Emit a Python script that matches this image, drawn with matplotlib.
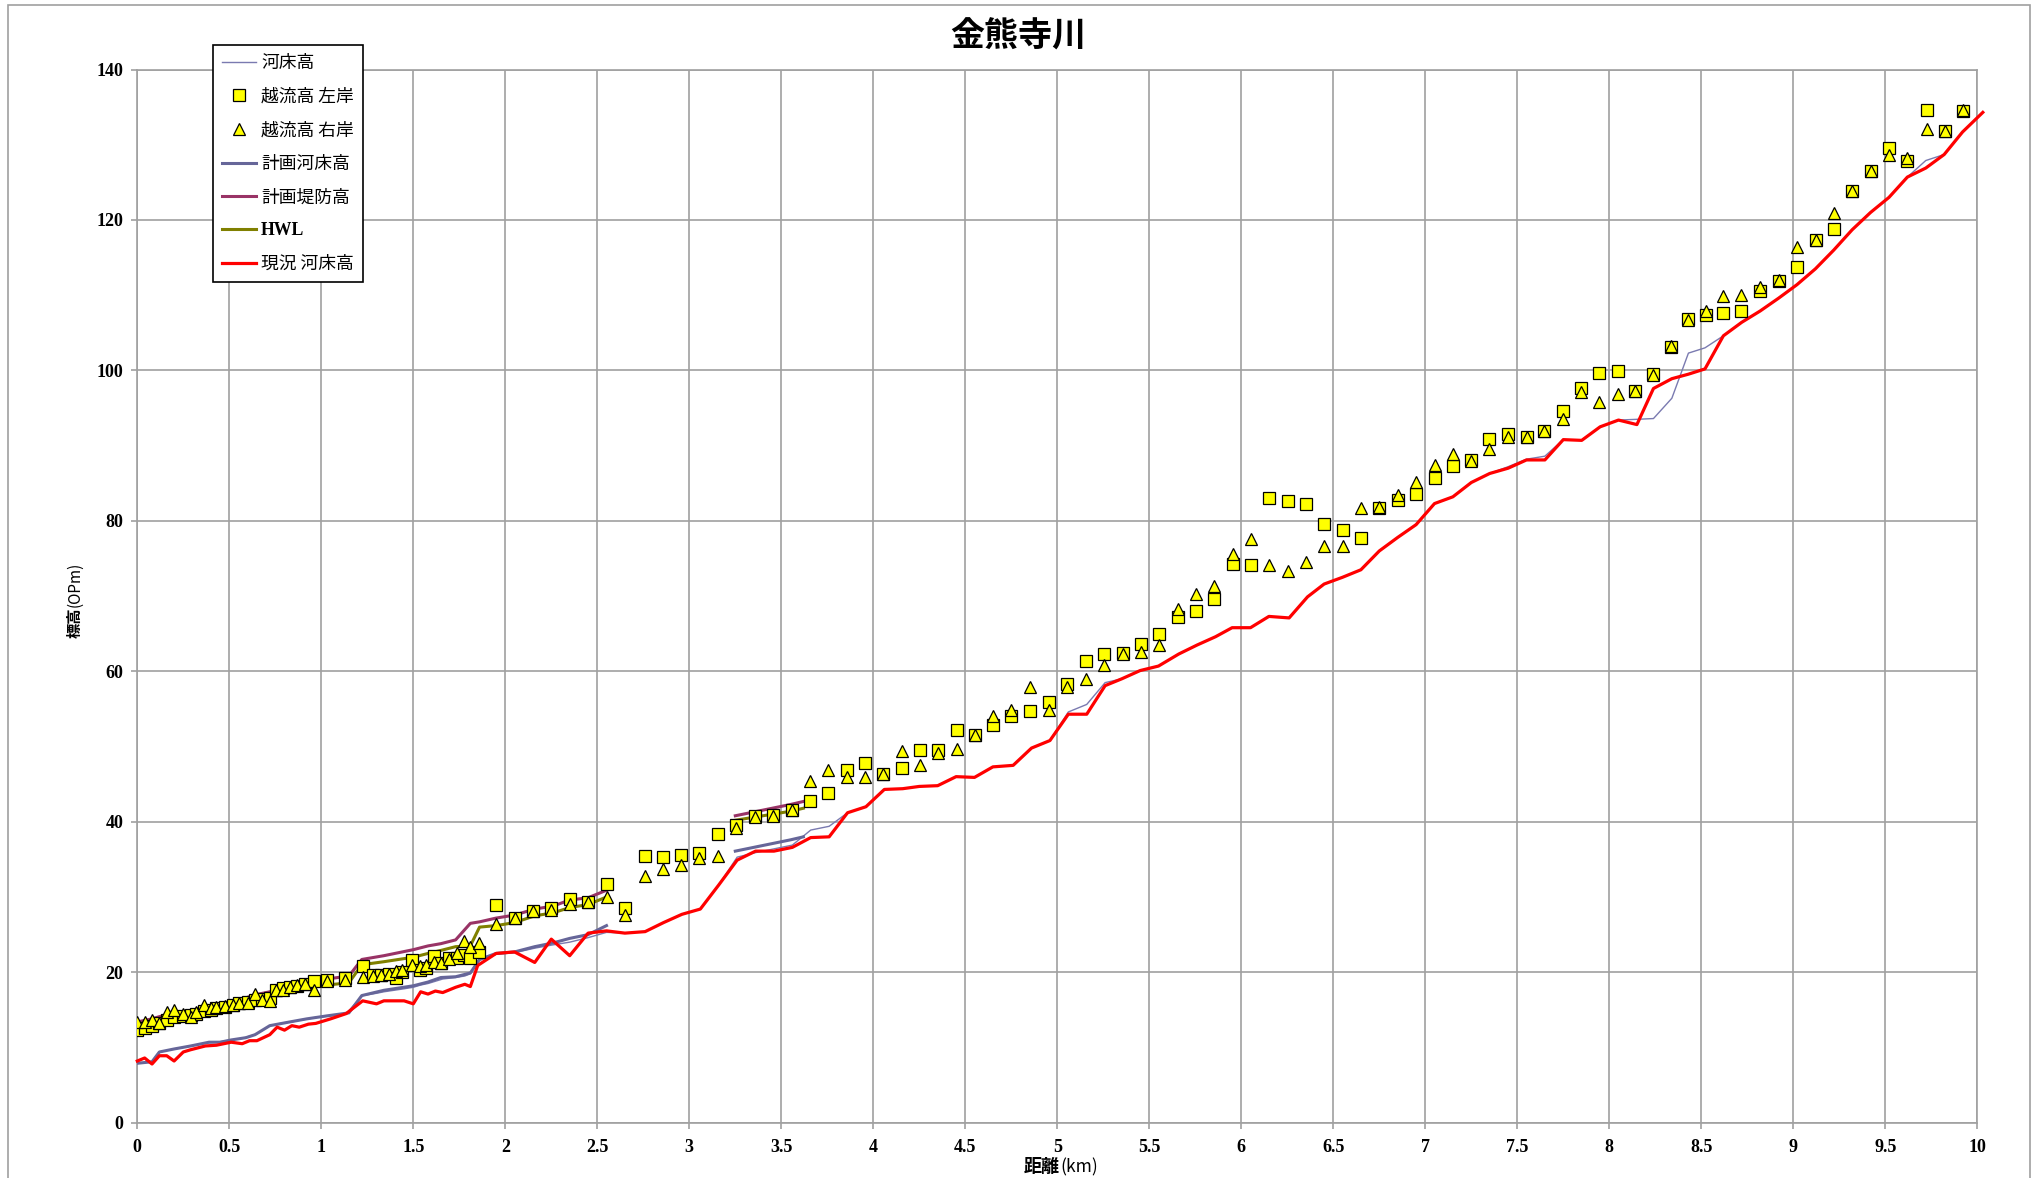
import numpy as np
import matplotlib
matplotlib.use("Agg")
import matplotlib.pyplot as plt
from matplotlib.patches import Rectangle

plt.rcParams['font.family'] = ['Noto Sans CJK JP', 'DejaVu Sans']

# overflow heights (left / right bank), distance in km
mk_km = [0.00, 0.04, 0.08, 0.12, 0.16, 0.20, 0.25, 0.29, 0.32, 0.36,
         0.40, 0.43, 0.475, 0.52, 0.555, 0.60, 0.64, 0.68, 0.72, 0.755,
         0.79, 0.83, 0.87, 0.91, 0.96, 1.03, 1.13, 1.225, 1.28, 1.325,
         1.37, 1.405, 1.44, 1.495, 1.535, 1.57, 1.615, 1.65, 1.695, 1.735,
         1.775, 1.81, 1.855, 1.95, 2.05, 2.15, 2.25, 2.35, 2.45, 2.55,
         2.65, 2.76, 2.855, 2.955, 3.055, 3.155, 3.255, 3.355, 3.455, 3.56,
         3.655, 3.755, 3.855, 3.955, 4.055, 4.155, 4.255, 4.35, 4.455, 4.555,
         4.65, 4.75, 4.85, 4.955, 5.055, 5.155, 5.255, 5.355, 5.455, 5.555,
         5.655, 5.755, 5.85, 5.955, 6.055, 6.15, 6.255, 6.35, 6.45, 6.55,
         6.65, 6.75, 6.85, 6.95, 7.05, 7.15, 7.247, 7.345, 7.45, 7.55,
         7.645, 7.75, 7.847, 7.945, 8.046, 8.142, 8.236, 8.337, 8.43, 8.525,
         8.62, 8.715, 8.82, 8.92, 9.02, 9.124, 9.22, 9.32, 9.424, 9.52,
         9.62, 9.724, 9.824, 9.92]
left_bank = [12.3, 12.6, 12.9, 13.2, 13.7, 14.0, 14.2, 14.3, 14.5, 14.8,
             15.0, 15.2, 15.4, 15.6, 15.9, 16.1, 16.3, 16.4, 16.6, 17.7,
             17.9, 18.1, 18.2, 18.4, 18.8, 19.0, 19.2, 20.8, 19.6, 19.6,
             19.7, 19.3, 20.0, 21.6, 20.3, 20.5, 22.2, 21.2, 21.9, 21.9,
             22.3, 21.9, 22.7, 28.9, 27.2, 28.1, 28.5, 29.7, 29.3, 31.7,
             28.6, 35.5, 35.3, 35.6, 35.9, 38.4, 39.6, 40.8, 40.9, 41.6,
             42.7, 43.8, 46.9, 47.8, 46.3, 47.1, 49.5, 49.6, 52.2, 51.5,
             52.9, 54.0, 54.7, 55.9, 58.3, 61.4, 62.3, 62.4, 63.6, 65.0,
             67.2, 68.0, 69.6, 74.3, 74.1, 83.1, 82.6, 82.2, 79.6, 78.8,
             77.7, 81.7, 82.8, 83.6, 85.7, 87.3, 88.1, 90.9, 91.5, 91.2,
             92.0, 94.6, 97.6, 99.7, 99.9, 97.3, 99.5, 103.1, 106.9, 107.4,
             107.6, 107.9, 110.6, 111.9, 113.7, 117.3, 118.8, 123.9, 126.5, 129.6,
             127.9, 134.6, 131.8, 134.5]
right_bank = [13.4, 13.4, 13.6, 13.3, 14.7, 15.0, 14.5, 14.0, 14.7, 15.7,
              15.2, 15.4, 15.5, 15.7, 15.9, 15.9, 17.1, 16.3, 16.2, 17.7,
              17.7, 18.1, 18.3, 18.4, 17.6, 18.8, 19.0, 19.4, 19.5, 19.6,
              19.7, 20.1, 20.3, 21.0, 20.8, 21.0, 21.3, 21.2, 21.7, 22.5,
              24.1, 23.3, 23.9, 26.4, 27.2, 28.2, 28.3, 29.1, 29.3, 30.0,
              27.6, 32.8, 33.7, 34.2, 35.2, 35.5, 39.2, 40.6, 40.8, 41.6,
              45.4, 46.9, 46.0, 46.0, 46.4, 49.4, 47.6, 49.1, 49.7, 51.5,
              54.0, 54.8, 57.9, 54.9, 57.9, 59.0, 60.9, 62.3, 62.6, 63.5,
              68.3, 70.3, 71.4, 75.6, 77.6, 74.1, 73.4, 74.5, 76.6, 76.6,
              81.7, 81.9, 83.4, 85.2, 87.4, 88.9, 87.9, 89.6, 91.1, 91.1,
              91.9, 93.5, 97.1, 95.8, 96.9, 97.3, 99.4, 103.3, 106.7, 107.9,
              109.9, 110.0, 111.1, 112.0, 116.4, 117.4, 120.9, 123.9, 126.5, 128.6,
              128.3, 132.1, 131.8, 134.6]

# current riverbed
now_km = [0.00, 0.04, 0.08, 0.12, 0.16, 0.20, 0.25, 0.29, 0.37, 0.43,
          0.51, 0.57, 0.61, 0.65, 0.72, 0.76, 0.80, 0.84, 0.88, 0.93,
          0.97, 1.05, 1.135, 1.225, 1.30, 1.34, 1.45, 1.50, 1.54, 1.58,
          1.62, 1.66, 1.73, 1.78, 1.81, 1.85, 1.95, 2.05, 2.16, 2.25,
          2.35, 2.45, 2.55, 2.65, 2.76, 2.86, 2.96, 3.06, 3.16, 3.26,
          3.36, 3.46, 3.56, 3.66, 3.76, 3.86, 3.96, 4.06, 4.16, 4.25,
          4.35, 4.45, 4.55, 4.65, 4.76, 4.86, 4.96, 5.06, 5.16, 5.26,
          5.35, 5.45, 5.55, 5.66, 5.76, 5.86, 5.95, 6.05, 6.15, 6.26,
          6.36, 6.45, 6.55, 6.65, 6.75, 6.85, 6.95, 7.05, 7.15, 7.25,
          7.35, 7.45, 7.55, 7.65, 7.75, 7.85, 7.95, 8.05, 8.15, 8.24,
          8.34, 8.43, 8.52, 8.62, 8.72, 8.82, 8.92, 9.02, 9.12, 9.22,
          9.32, 9.42, 9.52, 9.62, 9.72, 9.82, 9.92, 10.03]
now_bed = [8.2, 8.6, 7.8, 8.9, 8.9, 8.2, 9.4, 9.7, 10.2, 10.3,
           10.7, 10.5, 10.9, 10.9, 11.7, 12.7, 12.3, 12.9, 12.7, 13.1,
           13.2, 13.8, 14.5, 16.2, 15.8, 16.2, 16.2, 15.8, 17.4, 17.1,
           17.5, 17.3, 18.0, 18.4, 18.1, 20.9, 22.5, 22.7, 21.3, 24.4,
           22.2, 25.2, 25.5, 25.2, 25.4, 26.6, 27.7, 28.4, 31.6, 34.9,
           36.1, 36.1, 36.6, 37.9, 38.0, 41.2, 42.0, 44.3, 44.4, 44.7,
           44.8, 46.0, 45.9, 47.3, 47.5, 49.8, 50.8, 54.3, 54.3, 58.1,
           59.0, 60.1, 60.7, 62.3, 63.5, 64.6, 65.8, 65.8, 67.3, 67.1,
           69.9, 71.6, 72.5, 73.5, 76.0, 77.8, 79.5, 82.3, 83.2, 85.1,
           86.3, 87.0, 88.1, 88.1, 90.8, 90.7, 92.5, 93.4, 92.8, 97.6,
           98.9, 99.5, 100.2, 104.6, 106.4, 107.9, 109.6, 111.4, 113.5, 116.0,
           118.7, 121.0, 123.0, 125.7, 126.9, 128.7, 131.7, 134.3]

# riverbed (thin line), same stations up to 9.82 km
bed = [7.9, 8.0, 8.1, 9.4, 9.6, 9.8, 10.0, 10.2, 10.6, 10.7,
       11.0, 11.2, 11.5, 11.8, 12.9, 13.1, 13.3, 13.4, 13.6, 13.8,
       14.0, 14.2, 14.5, 16.9, 17.2, 17.4, 17.8, 18.0, 18.3, 18.5,
       18.8, 19.1, 19.3, 19.5, 19.8, 21.5, 22.4, 22.6, 23.2, 23.6,
       24.0, 24.6, 25.3, 25.2, 25.4, 26.6, 27.7, 28.4, 31.6, 35.3,
       35.9, 36.4, 36.9, 38.9, 39.4, 41.2, 42.0, 44.3, 44.4, 44.7,
       44.8, 46.0, 45.9, 47.3, 47.5, 49.8, 50.8, 54.6, 55.6, 58.5,
       59.0, 60.1, 60.7, 62.3, 63.5, 64.6, 65.8, 65.8, 67.3, 67.1,
       69.9, 71.6, 72.5, 73.5, 76.0, 77.8, 79.5, 82.3, 83.2, 85.1,
       86.3, 87.2, 88.2, 88.6, 90.8, 90.7, 92.5, 93.4, 93.5, 93.6,
       96.3, 102.3, 103.0, 104.6, 106.4, 107.9, 109.6, 111.4, 113.5, 116.0,
       118.7, 121.0, 123.0, 125.7, 127.9, 128.7]

# plan lines (two sections)
plan_km = [0.00, 0.08, 0.12, 0.20, 0.29, 0.39, 0.45, 0.51, 0.59, 0.64,
           0.72, 0.83, 0.92, 1.03, 1.15, 1.22, 1.34, 1.50, 1.58, 1.65,
           1.73, 1.81, 1.86, 1.95, 2.05, 2.16, 2.26, 2.35, 2.45, 2.55,
           np.nan, 3.25, 3.35, 3.45, 3.55, 3.62]
plan_bed = [7.9, 8.1, 9.4, 9.8, 10.2, 10.7, 10.7, 11.0, 11.3, 11.7,
            12.9, 13.4, 13.8, 14.2, 14.6, 16.9, 17.6, 18.2, 18.7, 19.3,
            19.4, 19.9, 21.7, 22.5, 22.7, 23.4, 23.9, 24.5, 25.0, 26.2,
            np.nan, 36.1, 36.6, 37.1, 37.6, 38.0]
plan_levee = [13.4, 13.8, 14.1, 14.5, 14.9, 15.5, 15.8, 16.1, 16.6, 17.0,
              17.4, 18.1, 18.5, 19.1, 19.5, 21.7, 22.2, 23.0, 23.5, 23.8,
              24.3, 26.5, 26.7, 27.2, 27.6, 28.4, 28.8, 29.6, 29.9, 30.9,
              np.nan, 40.8, 41.3, 41.8, 42.3, 42.7]
plan_hwl = [12.9, 13.3, 13.6, 14.0, 14.4, 15.0, 15.3, 15.6, 16.1, 16.5,
            16.9, 17.6, 18.0, 18.3, 18.6, 21.0, 21.4, 22.0, 22.5, 22.9,
            23.4, 23.5, 26.0, 26.2, 26.6, 27.5, 27.9, 28.6, 29.0, 30.0,
            np.nan, 40.2, 40.6, 41.0, 41.4, 41.8]

x_ticks = [0, 0.5, 1, 1.5, 2, 2.5, 3, 3.5, 4, 4.5, 5, 5.5, 6, 6.5, 7, 7.5, 8, 8.5, 9, 9.5, 10]
y_ticks = [0, 20, 40, 60, 80, 100, 120, 140]

W, H = 2037, 1178
fig = plt.figure(figsize=(W / 100, H / 100), dpi=100)
ax = fig.add_axes([137.3 / W, 1 - 1122.7 / H, 1840 / W, 1053.2 / H])

# outer chart frame
fig.patches.append(Rectangle((8 / W, -0.01), (2030 - 8) / W, 1.01 - 5.3 / H,
                             transform=fig.transFigure, fill=False,
                             edgecolor='#a0a0a0', lw=1.2))

ax.plot(now_km[:len(bed)], bed, color='#7a7ab0', lw=1.0, label='河床高', zorder=3)
ax.plot(mk_km, left_bank, 's', ms=8.3, mfc='#ffff00', mec='black', mew=0.9,
        label='越流高 左岸', zorder=5)
ax.plot(mk_km, right_bank, '^', ms=9.3, mfc='#ffff00', mec='black', mew=0.9,
        label='越流高 右岸', zorder=6)
ax.plot(plan_km, plan_bed, color='#666699', lw=2.2, label='計画河床高', zorder=3)
ax.plot(plan_km, plan_levee, color='#993366', lw=2.2, label='計画堤防高', zorder=3)
ax.plot(plan_km, plan_hwl, color='#808000', lw=2.2, label='HWL', zorder=3)
ax.plot(now_km, now_bed, color='#ff0000', lw=2.3, label='現況 河床高', zorder=4,
        clip_on=False)

ax.set_xlim(0, 10)
ax.set_ylim(0, 140)
ax.set_xticks(x_ticks, labels=[f'{v:g}' for v in x_ticks],
              fontfamily='Liberation Serif', fontweight='bold', fontsize=13)
ax.set_yticks(y_ticks, labels=[str(v) for v in y_ticks],
              fontfamily='Liberation Serif', fontweight='bold', fontsize=13)
ax.tick_params(axis='x', direction='out', length=4, width=1.2, color='#a0a0a0', pad=8)
ax.tick_params(axis='y', direction='out', length=4, width=1.2, color='#a0a0a0', pad=6)
ax.grid(True, color='#a0a0a0', lw=1.2)
ax.set_axisbelow(True)
for s in ax.spines.values():
    s.set_color('#a0a0a0')
    s.set_linewidth(1.2)

leg = ax.legend(loc='upper left',
                bbox_to_anchor=((213 - 137.3) / 1840, (1122.7 - 45) / 1053.2),
                borderaxespad=0, fancybox=False, edgecolor='black', framealpha=1,
                fontsize=12.8, labelspacing=0.88, handlelength=1.9,
                handletextpad=0.3, borderpad=0.5)
leg.get_frame().set_linewidth(1.2)
leg.set_zorder(10)
hwl_txt = leg.get_texts()[5]
hwl_txt.set_fontfamily('Liberation Serif')
hwl_txt.set_fontweight('bold')

fig.text(0.5, 1 - 36 / H, '金熊寺川', ha='center', va='center',
         fontsize=24.5, fontweight='bold')

# axis labels: bold kanji + plain unit
fig.text(1060 / W, 1 - 1167 / H, '距離', ha='right', va='center',
         fontsize=13, fontweight='bold')
fig.text(1060 / W, 1 - 1167 / H, '(km)', ha='left', va='center', fontsize=12.5)
fig.text(75 / W, 1 - 638 / H, '標高', ha='center', va='bottom', rotation=90,
         fontsize=11, fontweight='bold')
fig.text(75 / W, 1 - 607 / H, '(OPm)', ha='center', va='bottom', rotation=90,
         fontsize=11)

fig.savefig('out.png', dpi=100)
